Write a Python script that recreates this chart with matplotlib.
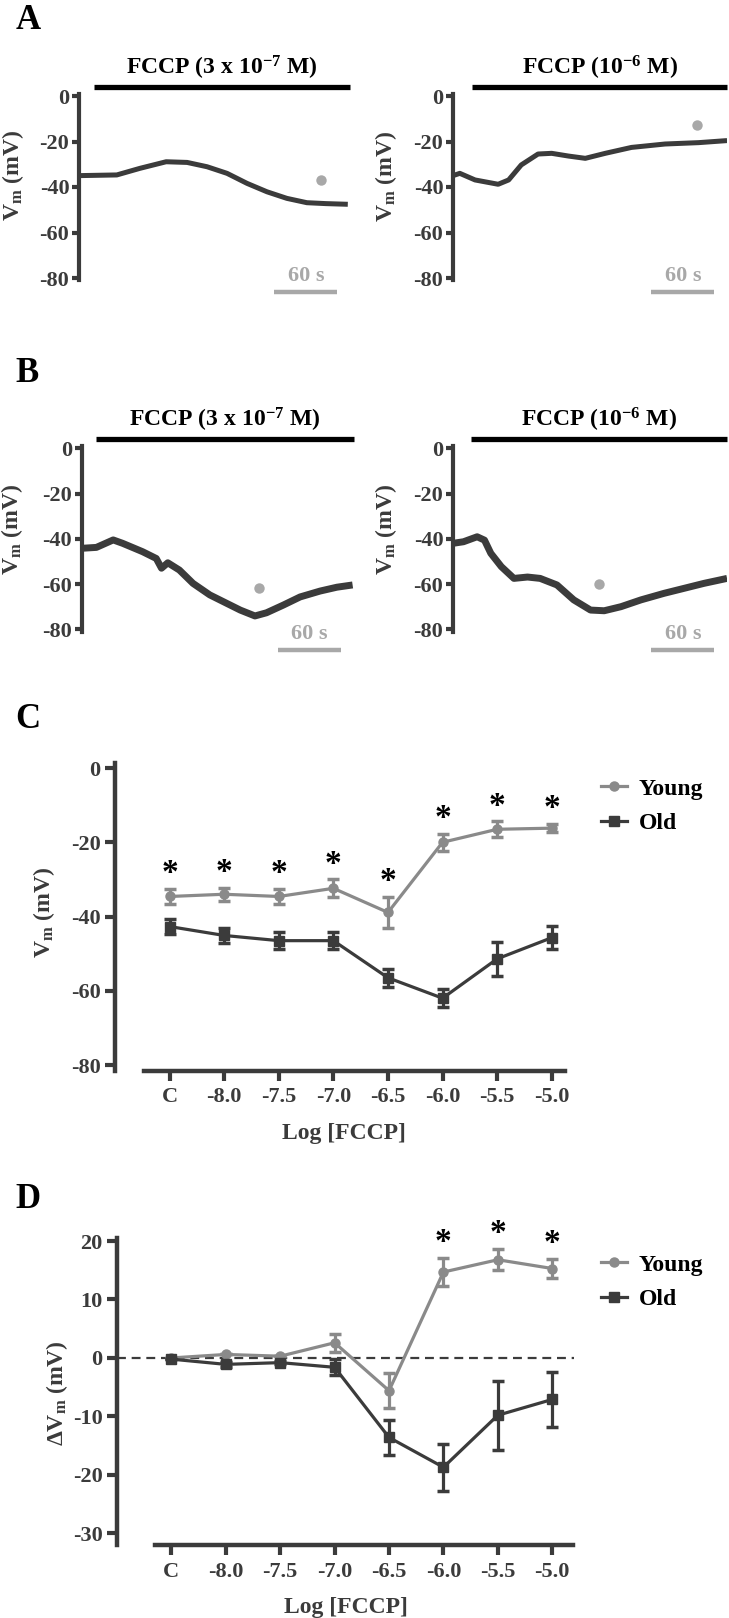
import matplotlib
matplotlib.use("Agg")
import matplotlib.pyplot as plt
from matplotlib.lines import Line2D

plt.rcParams['font.family'] = ['Liberation Serif', 'DejaVu Serif']
plt.rcParams['font.weight'] = 'bold'
plt.rcParams['axes.labelweight'] = 'bold'
plt.rcParams['axes.unicode_minus'] = False
plt.rcParams['mathtext.fontset'] = 'custom'
plt.rcParams['mathtext.rm'] = 'Liberation Serif:bold'
plt.rcParams['mathtext.it'] = 'Liberation Serif:bold'
plt.rcParams['mathtext.bf'] = 'Liberation Serif:bold'

DARK = '#3b3b3b'
YOUNG = '#8a8a8a'
PALE = '#a8a8a8'

# ---------------- data ----------------
# panel A, young cell traces (time s, Vm mV)
a1_t = [0, 36, 58, 83, 103, 122, 141, 160, 179, 198, 217, 235, 256]
a1_v = [-35.0, -34.7, -31.8, -28.9, -29.2, -31.1, -34.0, -38.4, -42.1, -45.0, -46.9, -47.3, -47.6]
a2_t = [0, 6.5, 21, 43, 53, 65, 81, 94, 110, 126, 145, 170, 202, 234, 261]
a2_v = [-35.0, -34.0, -36.9, -38.8, -36.9, -30.3, -25.5, -25.2, -26.4, -27.4, -25.2, -22.6, -21.1, -20.5, -19.6]
# panel B, old cell traces
b1_t = [0, 14, 30, 39, 58, 71, 76, 82, 93, 106, 122, 138, 151, 165, 176, 192, 208, 227, 243, 258]
b1_v = [-44.2, -43.8, -40.5, -42.0, -45.7, -48.7, -53.0, -50.6, -53.8, -59.7, -64.8, -68.5, -71.5,
        -74.1, -72.7, -69.3, -65.7, -63.1, -61.4, -60.4]
b2_t = [0, 10, 23, 30, 36, 46, 58, 71, 83, 99, 115, 131, 144, 160, 179, 201, 220, 239, 261]
b2_v = [-42.0, -41.3, -39.1, -40.6, -46.4, -52.3, -57.5, -56.9, -57.5, -60.4, -67.0, -71.5, -71.8,
        -70.0, -67.0, -64.1, -61.9, -59.7, -57.5]

trace_titles = [r'FCCP (3 x 10$^{-7}$ M)', r'FCCP (10$^{-6}$ M)']
drug_start = [14, 18, 14, 17]          # s, start of FCCP bar
dot_t = [230, 232, 169, 139]           # grey dot (time of measurement)
dot_v = [-37, -12.7, -61.9, -60]

# panels C and D
categories = ['C', '-8.0', '-7.5', '-7.0', '-6.5', '-6.0', '-5.5', '-5.0']
c_young = [-34.6, -34.0, -34.6, -32.4, -38.9, -20.0, -16.5, -16.2]
c_young_err = [2.0, 1.8, 2.0, 2.4, 4.2, 2.3, 2.1, 1.1]
c_old = [-42.7, -45.1, -46.5, -46.5, -56.5, -62.0, -51.4, -45.7]
c_old_err = [2.0, 2.0, 2.2, 2.2, 2.4, 2.5, 4.5, 3.1]
c_sig = [0, 1, 2, 3, 4, 5, 6, 7]

d_young = [0.0, 0.6, 0.3, 2.6, -5.6, 14.7, 16.8, 15.3]
d_young_err = [0.0, 0.0, 0.0, 1.5, 3.0, 2.4, 1.8, 1.7]
d_old = [-0.2, -1.1, -0.8, -1.6, -13.6, -18.7, -9.8, -7.1]
d_old_err = [0.0, 0.4, 0.3, 1.4, 3.0, 4.0, 5.9, 4.7]
d_sig = [5, 6, 7]

# ---------------- figure ----------------
W, H = 729, 1618
fig = plt.figure(figsize=(W / 100, H / 100), dpi=100)


def px_axes(x0, x1, y0, y1):
    # pixel box (from top-left) -> figure axes
    return fig.add_axes([x0 / W, 1 - y1 / H, (x1 - x0) / W, (y1 - y0) / H])


def trace_panel(x0, y_zero, y_m80, tmax, t, v, k, ylim, lw):
    ppu = (y_m80 - y_zero) / 80.0
    pps = 1.05
    ax = px_axes(x0, x0 + tmax * pps, y_zero - ylim[1] * ppu, y_zero - ylim[0] * ppu)
    ax.set_xlim(0, tmax)
    ax.set_ylim(*ylim)
    ax.plot(t, v, color=DARK, lw=lw, solid_joinstyle='round', solid_capstyle='butt')
    ax.plot([dot_t[k]], [dot_v[k]], 'o', color=PALE, ms=7.5, mec='none')
    # FCCP bar + label
    ax.plot([drug_start[k], tmax], [4, 4], color='black', lw=3.8, solid_capstyle='butt', clip_on=False)
    ax.text((drug_start[k] + tmax) / 2, 9.6, trace_titles[k % 2], ha='center', va='baseline',
            fontsize=17, color='black')
    # 60 s scale bar
    sb0 = tmax - 72
    ax.plot([sb0, sb0 + 60], [ylim[0] + 6, ylim[0] + 6], color=PALE, lw=3.2,
            solid_capstyle='butt', clip_on=False)
    ax.text(sb0 + 30, ylim[0] + 10.5, '60 s', ha='center', va='baseline', fontsize=16, color=PALE)
    for s in ['top', 'right', 'bottom']:
        ax.spines[s].set_visible(False)
    ax.spines['left'].set_bounds(-81, 1)
    ax.spines['left'].set_linewidth(3)
    ax.spines['left'].set_color(DARK)
    ax.set_xticks([])
    ax.set_yticks([0, -20, -40, -60, -80])
    ax.tick_params(axis='y', length=5, width=3, color=DARK, labelsize=16, labelcolor=DARK, pad=2)
    return ax


trace_panel(79, 96, 278, 258, a1_t, a1_v, 0, (-92, 18), 3.6)
trace_panel(453, 96, 278, 261, a2_t, a2_v, 1, (-92, 18), 3.6)
trace_panel(81.7, 448.3, 629.3, 259, b1_t, b1_v, 2, (-95, 18), 5.0)
trace_panel(453, 448.3, 629.3, 261, b2_t, b2_v, 3, (-95, 18), 5.0)

ylab = r'V$_{\mathrm{m}}$ (mV)'
for (x, y) in [(13, 176), (386, 177), (12.5, 530), (386, 530)]:
    fig.text(x / W, 1 - y / H, ylab, rotation=90, ha='center', va='center', fontsize=17, color=DARK)


def group_panel(x0, x1, y_top, y_bot, ylim, young, young_err, old, old_err, sig, yticks, xspan, ybounds):
    ax = px_axes(x0, x1, y_top, y_bot)
    x = list(range(len(categories)))
    ax.errorbar(x, young, yerr=young_err, color=YOUNG, marker='o', ms=6.5, lw=2.3,
                elinewidth=2.3, capsize=4.5, capthick=2.5, label='Young', zorder=3)
    ax.errorbar(x, old, yerr=old_err, color=DARK, marker='s', ms=7, lw=2.3,
                elinewidth=2.3, capsize=4.5, capthick=2.5, label='Old', zorder=4)
    for i in sig:
        ax.annotate('*', (i, young[i] + young_err[i]), xytext=(0, 11), textcoords='offset points',
                    ha='center', va='center', fontsize=24, color='black')
    ax.set_xlim(-1.0, 7.4)
    ax.set_ylim(*ylim)
    for s in ['top', 'right']:
        ax.spines[s].set_visible(False)
    ax.spines['left'].set_bounds(*ybounds)
    ax.spines['bottom'].set_bounds(*xspan)
    for s in ['left', 'bottom']:
        ax.spines[s].set_linewidth(3.2)
        ax.spines[s].set_color(DARK)
    ax.set_xticks(x)
    ax.set_xticklabels(categories)
    ax.set_yticks(yticks)
    ax.tick_params(length=7, width=3, color=DARK, labelsize=16, labelcolor=DARK)
    ax.tick_params(axis='x', pad=5)
    ax.set_xlabel('Log [FCCP]', fontsize=17, color=DARK, labelpad=11)
    h = [Line2D([0], [0], color=YOUNG, marker='o', ms=6.5, lw=2.3),
         Line2D([0], [0], color=DARK, marker='s', ms=7, lw=2.3)]
    return ax, h


axC, hC = group_panel(115, 573.6, 760.6, 1070.6, (-81.5, 2), c_young, c_young_err, c_old, c_old_err,
                      c_sig, [0, -20, -40, -60, -80], (-0.46, 7.24), (-81.5, 1.3))
fig.text(44 / W, 1 - 913 / H, ylab, rotation=90, ha='center', va='center', fontsize=17, color=DARK)
fig.legend(hC, ['Young', 'Old'], loc='upper left', bbox_to_anchor=(601 / W, 1 - 778 / H),
           frameon=False, fontsize=17, handlelength=1.1, handletextpad=0.5, labelspacing=0.55,
           borderpad=0, borderaxespad=0)

axD, hD = group_panel(117, 574, 1235.2, 1545, (-32, 21), d_young, d_young_err, d_old, d_old_err,
                      d_sig, [20, 10, 0, -10, -20, -30], (-0.31, 7.39), (-32, 20.6))
axD.axhline(0, color=DARK, lw=1.6, ls=(0, (4, 2.6)), zorder=1)
fig.text(57 / W, 1 - 1393 / H, r'$\Delta$V$_{\mathrm{m}}$ (mV)', rotation=90, ha='center', va='center',
         fontsize=17, color=DARK)
fig.legend(hD, ['Young', 'Old'], loc='upper left', bbox_to_anchor=(601 / W, 1 - 1254 / H),
           frameon=False, fontsize=17, handlelength=1.1, handletextpad=0.5, labelspacing=0.55,
           borderpad=0, borderaxespad=0)

# panel letters
for lab, (x, y) in zip('ABCD', [(16, 29), (15, 382), (15, 728), (15, 1208)]):
    fig.text(x / W, 1 - y / H, lab, ha='left', va='baseline', fontsize=25, color='black')

fig.savefig('out.png', dpi=100)
